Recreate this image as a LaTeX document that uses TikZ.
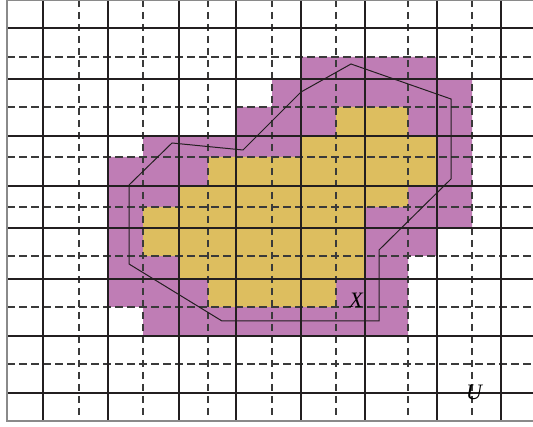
\documentclass[tikz,border=0pt]{standalone}
\usepackage{fontspec}
\newfontfamily\lblfont{Liberation Serif}
\definecolor{magfill}{HTML}{BF7DB5}
\definecolor{yelfill}{HTML}{DDBE5F}
\definecolor{gridsolid}{HTML}{231F20}
\definecolor{griddash}{HTML}{3A3A3A}
\definecolor{frameg}{HTML}{8A8A8A}
\tikzset{
  solidline/.style={draw=gridsolid, line width=1.8pt},
  dashline/.style={draw=griddash, line width=1.2pt, dash pattern=on 7.5pt off 4.5pt},
  frameline/.style={draw=frameg, line width=1.2pt},
  hull/.style={draw=gridsolid, line width=1pt, line join=miter},
  lbl/.style={font=\lblfont\itshape\fontsize{22}{22}\selectfont, inner sep=0pt}
}
\begin{document}
\begin{tikzpicture}[x=1pt,y=-1pt]
\useasboundingbox (0,0) rectangle (533,427);
\fill[white] (0,0) rectangle (533,427);
% magenta region
\fill[magfill] (301,57) -- (437,57) -- (437,79) -- (472,79) -- (472,228) -- (437,228) -- (437,256) -- (408,256) -- (408,336) -- (143,336) -- (143,307) -- (108,307) -- (108,157) -- (143,157) -- (143,136) -- (236,136) -- (236,107) -- (272,107) -- (272,79) -- (301,79) -- cycle;
% yellow region
\fill[yelfill] (336,107) -- (408,107) -- (408,136) -- (437,136) -- (437,186) -- (408,186) -- (408,207) -- (365,207) -- (365,279) -- (336,279) -- (336,307) -- (208,307) -- (208,279) -- (179,279) -- (179,256) -- (143,256) -- (143,207) -- (179,207) -- (179,186) -- (208,186) -- (208,157) -- (301,157) -- (301,136) -- (336,136) -- cycle;
% dashed grid
\foreach \x in {79,143,208,272,336,408,472} \draw[dashline] (\x,0) -- (\x,421);
\foreach \y in {57,107,157,207,256,307,364} \draw[dashline] (7,\y) -- (533,\y);
% solid grid
\foreach \x in {43,108,179,236,301,365,437,501} \draw[solidline] (\x,0) -- (\x,421);
\foreach \y in {28,79,136,186,228,279,336,393} \draw[solidline] (7,\y) -- (533,\y);
% frame
\draw[frameline] (533,0.6) -- (7,0.6) -- (7,421) -- (533,421);
% hull polygon
\draw[hull] (172,143) -- (243,150) -- (301,92) -- (351,64) -- (451,99) -- (451,179) -- (379,250) -- (379,321) -- (222,321) -- (129,264) -- (129,185) -- cycle;
% labels
\node[lbl] (labX) at (356,300) {X};
\node[lbl] (labU) at (474,392) {U};
\end{tikzpicture}
\end{document}
